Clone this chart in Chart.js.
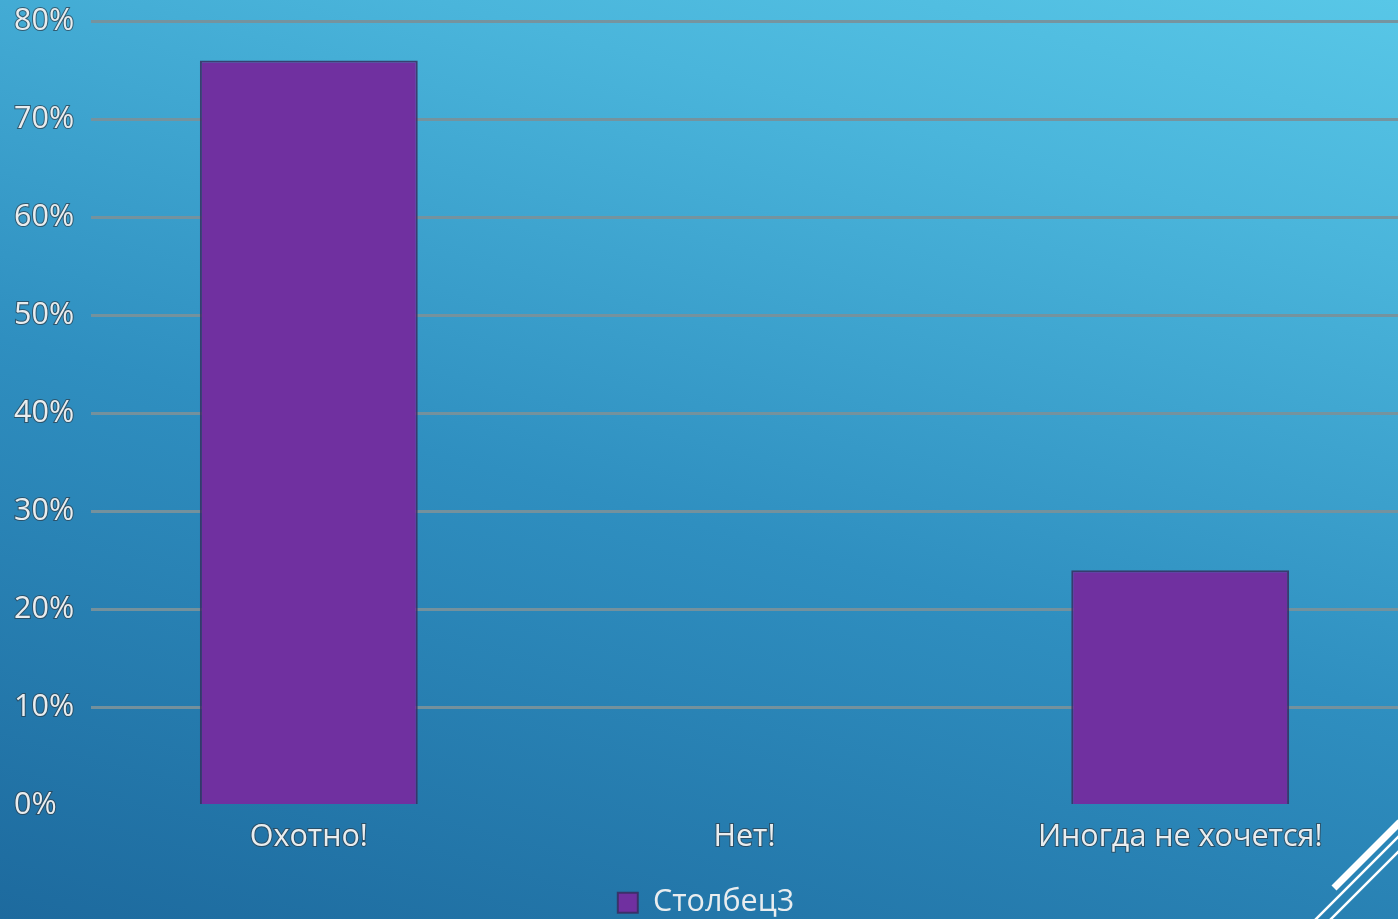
<!DOCTYPE html>
<html>
<head>
<meta charset="utf-8">
<script src="https://cdn.jsdelivr.net/npm/chart.js@4.4.1/dist/chart.umd.min.js"></script>
<style>
    html, body { margin: 0; padding: 0; }
    body {
        width: 1398px; height: 919px; overflow: hidden;
        background: linear-gradient(15deg, #1d6a9e 0%, #2f8fc0 45%, #4ab5db 80%, #58c7e7 100%);
    }
    #wrap { position: relative; width: 1398px; height: 919px; }
</style>
</head>
<body>
<div id="wrap"><canvas id="chartBar"></canvas></div>
<script>
const categories = ['Охотно!', 'Нет!', 'Иногда не хочется!'];
const seriesName = 'Столбец3';
const seriesValues = [76, 0, 24];
const yTicks = [0, 10, 20, 30, 40, 50, 60, 70, 80];

const labelFont = { family: "'Open Sans', sans-serif", size: 30.5 };
const labelColor = '#e9edef';
const labelStroke = 'rgba(45, 65, 80, 0.75)';

// slide corner stripes (decoration only)
const cornerLines = {
    id: 'cornerLines',
    afterDraw(chart) {
        const ctx = chart.ctx;
        ctx.save();
        ctx.strokeStyle = '#ffffff';
        ctx.lineCap = 'butt';
        ctx.lineWidth = 7;
        ctx.beginPath(); ctx.moveTo(1334, 888); ctx.lineTo(1400, 822); ctx.stroke();
        ctx.lineWidth = 2.5;
        ctx.beginPath(); ctx.moveTo(1314, 921); ctx.lineTo(1400, 835); ctx.stroke();
        ctx.beginPath(); ctx.moveTo(1329, 921); ctx.lineTo(1400, 850); ctx.stroke();
        ctx.restore();
    }
};

const configChartBar = {
    type: 'bar',
    data: {
        labels: categories,
        datasets: [{
            label: seriesName,
            data: seriesValues,
            backgroundColor: '#7030a0',
            borderColor: 'rgba(55, 45, 95, 0.85)',
            borderWidth: 2,
            barPercentage: 0.5,
            categoryPercentage: 1
        }]
    },
    options: {
        responsive: true,
        maintainAspectRatio: false,
        animation: false,
        layout: { padding: { left: 14, top: 5, right: 0, bottom: -9 } },
        plugins: {
            tooltip: { enabled: false },
            legend: {
                position: 'bottom',
                labels: {
                    font: labelFont,
                    color: labelColor,
                    boxWidth: 20,
                    boxHeight: 20,
                    padding: 4,
                    useBorderRadius: false
                }
            }
        },
        scales: {
            x: {
                grid: { display: false, drawTicks: false },
                border: { display: false },
                ticks: {
                    font: labelFont,
                    color: labelColor,
                    textStrokeColor: labelStroke,
                    textStrokeWidth: 2,
                    padding: 14
                },
                afterFit(axis) { axis.height = 78; }
            },
            y: {
                min: 0,
                max: 80,
                afterBuildTicks(axis) { axis.ticks = yTicks.map(v => ({ value: v })); },
                grid: {
                    drawTicks: false,
                    lineWidth: 3,
                    color: ctx => ctx.tick && ctx.tick.value === 0 ? 'rgba(0,0,0,0)' : 'rgba(120, 145, 155, 0.95)'
                },
                border: { display: false },
                ticks: {
                    font: labelFont,
                    color: labelColor,
                    textStrokeColor: labelStroke,
                    textStrokeWidth: 2,
                    crossAlign: 'far',
                    callback: v => v + '%'
                },
                afterFit(axis) { axis.width = 77; }
            }
        }
    },
    plugins: [cornerLines]
};

let chartBar = document.getElementById('chartBar');
let oChartBar = new Chart(chartBar, configChartBar);
</script>
</body>
</html>
